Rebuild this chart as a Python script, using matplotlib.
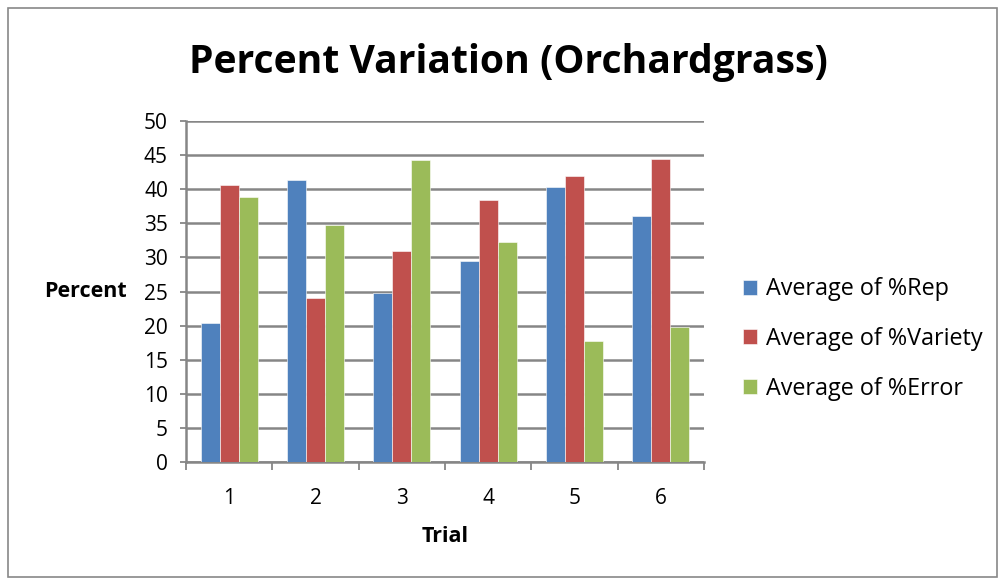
import numpy as np
import matplotlib.pyplot as plt
from matplotlib.patches import Rectangle

trials = ['1', '2', '3', '4', '5', '6']
rep = [20.4, 41.3, 24.8, 29.4, 40.3, 36.0]
variety = [40.6, 24.0, 31.0, 38.4, 42.0, 44.4]
error = [38.9, 34.8, 44.3, 32.3, 17.7, 19.8]

series = [('Average of %Rep', rep, '#4F81BD'),
          ('Average of %Variety', variety, '#C0504D'),
          ('Average of %Error', error, '#9BBB59')]

plt.rcParams['font.family'] = ['Open Sans', 'DejaVu Sans']

fig = plt.figure(figsize=(10, 5.79), dpi=100)
fig.patches.append(Rectangle((0.008, 0.004), 0.989, 0.982, transform=fig.transFigure,
                             fill=False, edgecolor='#888888', linewidth=1.2))
ax = fig.add_axes([0.186, 1 - 462 / 579, 0.518, 341 / 579])

x = np.arange(len(trials))
w = 0.22
for i, (name, vals, col) in enumerate(series):
    ax.bar(x + (i - 1) * w, vals, w, color=col, label=name,
           edgecolor='white', linewidth=0.4, zorder=3)

ax.set_xlim(-0.5, len(trials) - 0.5)
ax.set_ylim(0, 50)
ax.set_yticks(range(0, 51, 5))
ax.yaxis.grid(True, color='#868686', linewidth=1.8, zorder=0)
ax.set_xticks(x)
ax.set_xticklabels(trials)
ax.set_xticks(np.arange(-0.5, len(trials), 1), minor=True)
ax.tick_params(axis='x', which='major', length=0, pad=19, labelsize=15)
ax.tick_params(axis='x', which='minor', length=6, color='#868686', width=1.3)
ax.tick_params(axis='y', length=4, color='#868686', width=1.3, labelsize=15, pad=9)
for s in ['top', 'right']:
    ax.spines[s].set_visible(False)
for s in ['left', 'bottom']:
    ax.spines[s].set_color('#868686')
    ax.spines[s].set_linewidth(1.8)

ax.set_xlabel('Trial', fontsize=15.5, fontweight='bold', va='center')
ax.xaxis.set_label_coords(0.5, (462 - 536) / 341)
ax.set_ylabel('Percent', fontsize=15.5, fontweight='bold', rotation=0, ha='right', va='center')
ax.yaxis.set_label_coords((127 - 186) / 518, 0.5)
fig.text(0.508, 1 - 62 / 579, 'Percent Variation (Orchardgrass)', ha='center', va='center',
         fontsize=28.2, fontweight='bold')

ax.legend(loc='center left', bbox_to_anchor=(1.075, (462 - 339) / 341), frameon=False,
          fontsize=16.8, handlelength=0.6, handleheight=0.6, labelspacing=1.1,
          handletextpad=0.4, borderpad=0, borderaxespad=0)

fig.savefig('out.png', dpi=100)
